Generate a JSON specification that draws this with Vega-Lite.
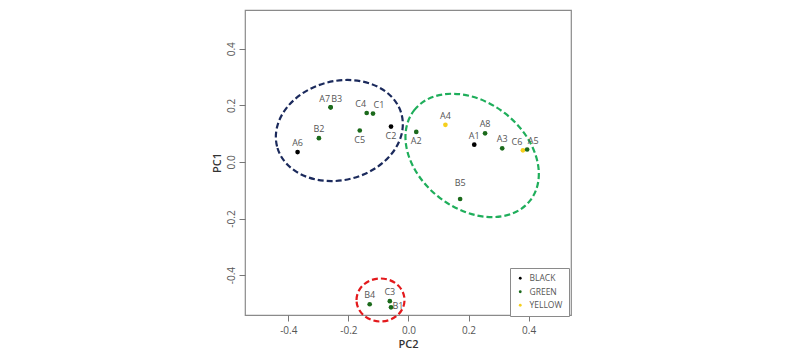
{
  "$schema": "https://vega.github.io/schema/vega-lite/v6.json",
  "width": 326,
  "height": 305,
  "autosize": {"type": "none"},
  "padding": {"left": 245, "top": 10, "right": 229, "bottom": 41},
  "background": "white",
  "config": {
    "font": "Open Sans",
    "view": {"stroke": "#8a8a8a", "strokeWidth": 1.2},
    "axis": {
      "domain": false,
      "grid": false,
      "tickColor": "#777777",
      "tickSize": 6,
      "tickWidth": 1,
      "labelFontSize": 10,
      "labelColor": "#555555",
      "labelFont": "Open Sans",
      "titleFont": "Open Sans",
      "titleFontSize": 11,
      "titleFontWeight": 600,
      "titleColor": "#333333"
    },
    "text": {"font": "Open Sans"}
  },
  "datasets": {
    "samples": [
      {"label": "A6", "pc2": -0.369, "pc1": 0.035, "color": "BLACK"},
      {"label": "B2", "pc2": -0.298, "pc1": 0.084, "color": "GREEN"},
      {"label": "A7", "pc2": -0.259, "pc1": 0.193, "color": "GREEN"},
      {"label": "B3", "pc2": -0.259, "pc1": 0.193, "color": "GREEN"},
      {"label": "C5", "pc2": -0.162, "pc1": 0.111, "color": "GREEN"},
      {"label": "C4", "pc2": -0.139, "pc1": 0.173, "color": "GREEN"},
      {"label": "C1", "pc2": -0.118, "pc1": 0.171, "color": "GREEN"},
      {"label": "C2", "pc2": -0.058, "pc1": 0.125, "color": "BLACK"},
      {"label": "A2", "pc2": 0.026, "pc1": 0.106, "color": "GREEN"},
      {"label": "A4", "pc2": 0.123, "pc1": 0.131, "color": "YELLOW"},
      {"label": "A1", "pc2": 0.219, "pc1": 0.061, "color": "BLACK"},
      {"label": "A8", "pc2": 0.255, "pc1": 0.101, "color": "GREEN"},
      {"label": "A3", "pc2": 0.312, "pc1": 0.048, "color": "GREEN"},
      {"label": "C6", "pc2": 0.381, "pc1": 0.041, "color": "YELLOW"},
      {"label": "A5", "pc2": 0.395, "pc1": 0.044, "color": "GREEN"},
      {"label": "B5", "pc2": 0.172, "pc1": -0.131, "color": "GREEN"},
      {"label": "B4", "pc2": -0.129, "pc1": -0.503, "color": "GREEN"},
      {"label": "C3", "pc2": -0.062, "pc1": -0.492, "color": "GREEN"},
      {"label": "B1", "pc2": -0.058, "pc1": -0.514, "color": "GREEN"}
    ],
    "clusters": [
      {"cluster": "navy", "pc2": -0.230, "pc1": 0.111},
      {"cluster": "green", "pc2": 0.212, "pc1": 0.023},
      {"cluster": "red", "pc2": -0.093, "pc1": -0.488}
    ]
  },
  "layer": [
    {
      "data": {"name": "clusters"},
      "mark": {"type": "point", "filled": false, "size": 4, "strokeWidth": 2.2, "strokeDash": [6, 3], "opacity": 1},
      "encoding": {
        "x": {"field": "pc2", "type": "quantitative", "scale": {"domain": [-0.544, 0.541], "nice": false, "zero": false}},
        "y": {"field": "pc1", "type": "quantitative", "scale": {"domain": [-0.541, 0.537], "nice": false, "zero": false}},
        "shape": {
          "field": "cluster", "type": "nominal", "legend": null,
          "scale": {
            "domain": ["navy", "green", "red"],
            "range": [
              "M-62.3,15.9A64.3,49.5,-14.3,0,1,-12.2,-48A64.3,49.5,-14.3,0,1,62.3,-15.9A64.3,49.5,-14.3,0,1,12.2,48A64.3,49.5,-14.3,0,1,-62.3,15.9Z",
              "M-58.1,-45A73.5,53.4,37.7,0,1,32.7,-42.2A73.5,53.4,37.7,0,1,58.1,45A73.5,53.4,37.7,0,1,-32.7,42.2A73.5,53.4,37.7,0,1,-58.1,-45Z",
              "M-24,0A24,21.5,0,0,1,0,-21.5A24,21.5,0,0,1,24,0A24,21.5,0,0,1,0,21.5A24,21.5,0,0,1,-24,0Z"
            ]
          }
        },
        "stroke": {
          "field": "cluster", "type": "nominal", "legend": null,
          "scale": {"domain": ["navy", "green", "red"], "range": ["#1b2a5c", "#1fae5b", "#e3191c"]}
        }
      }
    },
    {
      "data": {"name": "samples"},
      "mark": {"type": "circle", "size": 22, "opacity": 1},
      "encoding": {
        "x": {
          "field": "pc2", "type": "quantitative", "title": "PC2",
          "scale": {"domain": [-0.544, 0.541], "nice": false, "zero": false},
          "axis": {"values": [-0.4, -0.2, 0, 0.2, 0.4], "labelExpr": "replace(format(datum.value, '.1f'), '−', '-')", "labelPadding": 4, "titlePadding": 3}
        },
        "y": {
          "field": "pc1", "type": "quantitative", "title": "PC1",
          "scale": {"domain": [-0.541, 0.537], "nice": false, "zero": false},
          "axis": {"values": [-0.4, -0.2, 0, 0.2, 0.4], "labelExpr": "replace(format(datum.value, '.1f'), '−', '-')", "labelAngle": -90, "labelAlign": "center", "labelBaseline": "bottom", "labelPadding": 3, "titlePadding": 4}
        },
        "color": {
          "field": "color", "type": "nominal",
          "scale": {"domain": ["BLACK", "GREEN", "YELLOW"], "range": ["#000000", "#1b6a1b", "#f5cf1c"]},
          "legend": {
            "title": null, "orient": "none", "legendX": 265, "legendY": 258,
            "strokeColor": "#8a8a8a", "fillColor": "white", "padding": 6,
            "symbolType": "circle", "symbolSize": 8, "labelFontSize": 8.5,
            "labelColor": "#555555", "labelFont": "Open Sans", "rowPadding": 4.5, "labelOffset": 5
          }
        }
      }
    },
    {
      "data": {"name": "samples"},
      "transform": [{"filter": {"field": "label", "oneOf": ["A6", "B2", "A4", "A8", "A1", "A3", "B4", "C3"]}}],
      "mark": {"type": "text", "fontSize": 9, "fill": "#555555", "baseline": "middle", "align": "center", "dy": -9},
      "encoding": {"x": {"field": "pc2", "type": "quantitative"}, "y": {"field": "pc1", "type": "quantitative"}, "text": {"field": "label"}}
    },
    {
      "data": {"name": "samples"},
      "transform": [{"filter": {"field": "label", "oneOf": ["A7", "C6", "C4"]}}],
      "mark": {"type": "text", "fontSize": 9, "fill": "#555555", "baseline": "middle", "align": "center", "dx": -6, "dy": -8.5},
      "encoding": {"x": {"field": "pc2", "type": "quantitative"}, "y": {"field": "pc1", "type": "quantitative"}, "text": {"field": "label"}}
    },
    {
      "data": {"name": "samples"},
      "transform": [{"filter": {"field": "label", "oneOf": ["B3", "C1", "A5"]}}],
      "mark": {"type": "text", "fontSize": 9, "fill": "#555555", "baseline": "middle", "align": "center", "dx": 6, "dy": -8.5},
      "encoding": {"x": {"field": "pc2", "type": "quantitative"}, "y": {"field": "pc1", "type": "quantitative"}, "text": {"field": "label"}}
    },
    {
      "data": {"name": "samples"},
      "transform": [{"filter": {"field": "label", "oneOf": ["C5", "C2", "A2"]}}],
      "mark": {"type": "text", "fontSize": 9, "fill": "#555555", "baseline": "middle", "align": "center", "dy": 9.5},
      "encoding": {"x": {"field": "pc2", "type": "quantitative"}, "y": {"field": "pc1", "type": "quantitative"}, "text": {"field": "label"}}
    },
    {
      "data": {"name": "samples"},
      "transform": [{"filter": {"field": "label", "equal": "B5"}}],
      "mark": {"type": "text", "fontSize": 9, "fill": "#555555", "baseline": "middle", "align": "center", "dy": -15.5},
      "encoding": {"x": {"field": "pc2", "type": "quantitative"}, "y": {"field": "pc1", "type": "quantitative"}, "text": {"field": "label"}}
    },
    {
      "data": {"name": "samples"},
      "transform": [{"filter": {"field": "label", "equal": "B1"}}],
      "mark": {"type": "text", "fontSize": 9, "fill": "#555555", "baseline": "middle", "align": "left", "dx": 1.5, "dy": -1.5},
      "encoding": {"x": {"field": "pc2", "type": "quantitative"}, "y": {"field": "pc1", "type": "quantitative"}, "text": {"field": "label"}}
    }
  ]
}
